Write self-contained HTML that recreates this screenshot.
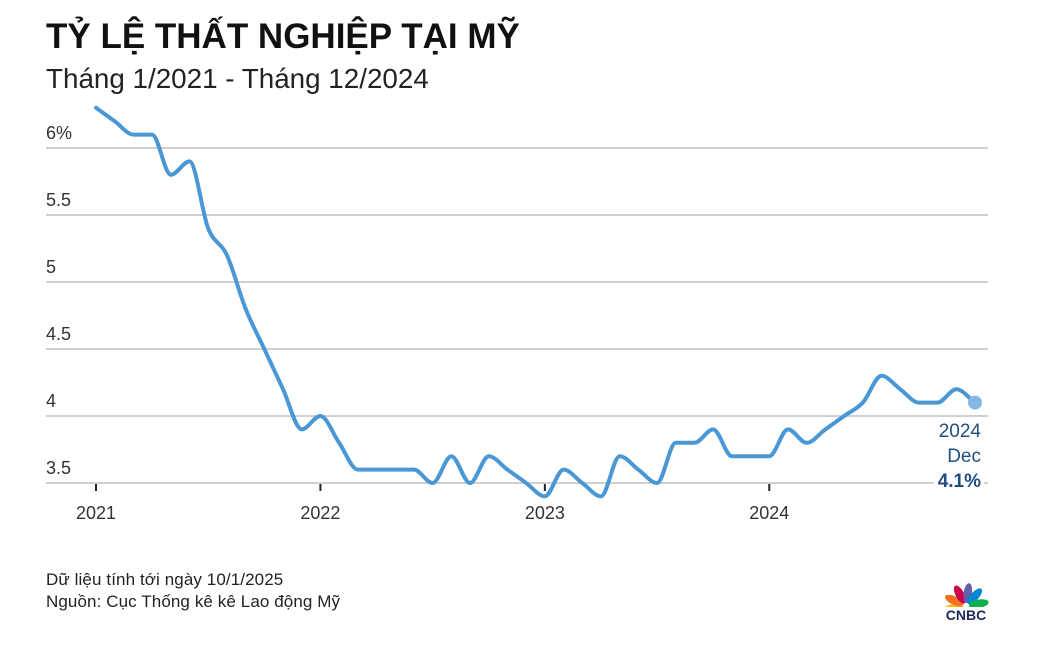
<!DOCTYPE html>
<html><head><meta charset="utf-8"><style>
body{margin:0;width:1039px;height:645px;background:#fff;overflow:hidden;font-family:"Liberation Sans",sans-serif;}
.t{position:absolute;white-space:nowrap}
</style></head><body>
<div class="t" style="left:46px;top:17px;font-size:35px;font-weight:bold;color:#111;letter-spacing:0px">TỶ LỆ THẤT NGHIỆP TẠI MỸ</div>
<div class="t" style="left:46px;top:63px;font-size:27.8px;color:#222">Tháng 1/2021 - Tháng 12/2024</div>
<svg id="chart" width="1039" height="645" style="position:absolute;left:0;top:0"></svg>
<div class="t" style="left:46px;top:570px;font-size:17px;letter-spacing:0.1px;color:#222">Dữ liệu tính tới ngày 10/1/2025</div>
<div class="t" style="left:46px;top:592px;font-size:17px;letter-spacing:0.1px;color:#222">Nguồn: Cục Thống kê kê Lao động Mỹ</div>
<svg style="position:absolute;left:940px;top:578px" width="52" height="44" viewBox="0 0 52 44">
<g transform="translate(26 28)">
<ellipse cx="0" cy="-13" rx="4.2" ry="10" fill="#fcb711" transform="rotate(-100)"/>
<ellipse cx="0" cy="-13" rx="4.2" ry="10" fill="#f37021" transform="rotate(-65)"/>
<ellipse cx="0" cy="-13" rx="4.2" ry="10" fill="#cc004c" transform="rotate(-28)"/>
<ellipse cx="0" cy="-13" rx="4.2" ry="10" fill="#6460aa" transform="rotate(8)"/>
<ellipse cx="0" cy="-13" rx="4.2" ry="10" fill="#0089d0" transform="rotate(42)"/>
<ellipse cx="0" cy="-13" rx="4.2" ry="10" fill="#0db14b" transform="rotate(80)"/>
</g>
<rect x="0" y="29" width="52" height="15" fill="#fff"/>
<text x="26" y="42" text-anchor="middle" font-family="Liberation Sans" font-weight="bold" font-size="14" fill="#1a2a5a">CNBC</text>
</svg>
<script>
const values2021=[6.3,6.2,6.1,6.1,5.8,5.9,5.4,5.2,4.8,4.5,4.2,3.9];
const values2022=[4.0,3.8,3.6,3.6,3.6,3.6,3.5,3.7,3.5,3.7,3.6,3.5];
const values2023=[3.4,3.6,3.5,3.4,3.7,3.6,3.5,3.8,3.8,3.9,3.7,3.7];
const values2024=[3.7,3.9,3.8,3.9,4.0,4.1,4.3,4.2,4.1,4.1,4.2,4.1];
const yTicks=[3.5,4,4.5,5,5.5,6];
const yLabels=["3.5","4","4.5","5","5.5","6%"];
const xYears=["2021","2022","2023","2024"];
const NS="http://www.w3.org/2000/svg";
const svg=document.getElementById('chart');
const vals=values2021.concat(values2022,values2023,values2024);
function x(i){return 96+i*(975-96)/47;}
function y(v){return 483-(v-3.5)*134;}
function mk(tag,attrs,parent){const e=document.createElementNS(NS,tag);for(const k in attrs)e.setAttribute(k,attrs[k]);(parent||svg).appendChild(e);return e;}
yTicks.forEach((v,i)=>{
  const l=mk('line',{x1:46,x2:988,y1:y(v),y2:y(v),stroke:'#d0d0d0','stroke-width':2});
  
  
  const t=mk('text',{x:46,y:y(v)-9,'font-size':18,fill:'#333','font-family':'Liberation Sans'});
  t.textContent=yLabels[i];
  
  
});
xYears.forEach((yr,i)=>{
  const xx=x(i*12);
  const tk=mk('line',{x1:xx,x2:xx,y1:484,y2:491,stroke:'#222','stroke-width':2});
  
  
  const t=mk('text',{x:xx,y:519,'text-anchor':'middle','font-size':18,fill:'#333','font-family':'Liberation Sans'});
  t.textContent=yr;
  
  
});
const pts=vals.map((v,i)=>[x(i),y(v)]);
const n=pts.length,h=pts[1][0]-pts[0][0];
const dl=[],m=[];
for(let i=0;i<n-1;i++)dl.push((pts[i+1][1]-pts[i][1])/h);
m[0]=dl[0];m[n-1]=dl[n-2];
for(let i=1;i<n-1;i++){m[i]=(dl[i-1]*dl[i]<=0)?0:(dl[i-1]+dl[i])/2;}
for(let i=0;i<n-1;i++){if(dl[i]===0){m[i]=0;m[i+1]=0;}}
let d='M'+pts[0][0]+','+pts[0][1];
for(let i=0;i<n-1;i++){
  const p1=pts[i],p2=pts[i+1];
  d+=' C'+(p1[0]+h/3)+','+(p1[1]+m[i]*h/3)+' '+(p2[0]-h/3)+','+(p2[1]-m[i+1]*h/3)+' '+p2[0]+','+p2[1];
}
const line=mk('path',{d:d,fill:'none',stroke:'#4a97d6','stroke-width':4,'stroke-linejoin':'round','stroke-linecap':'round'});


const last=pts[pts.length-1];
const dot=mk('circle',{cx:last[0],cy:last[1],r:7,fill:'#84b8e4'});


const bg=mk('rect',{x:934,y:470,width:50,height:22,fill:'#fff'});


[['2024',437,'normal'],['Dec',462,'normal'],[vals[vals.length-1].toFixed(1)+'%',487,'bold']].forEach(a=>{
  const t=mk('text',{x:981,y:a[1],'text-anchor':'end','font-size':19,'font-weight':a[2],fill:'#1f4f82','font-family':'Liberation Sans'});
  t.textContent=a[0];
  
  
});
</script>
</body></html>
